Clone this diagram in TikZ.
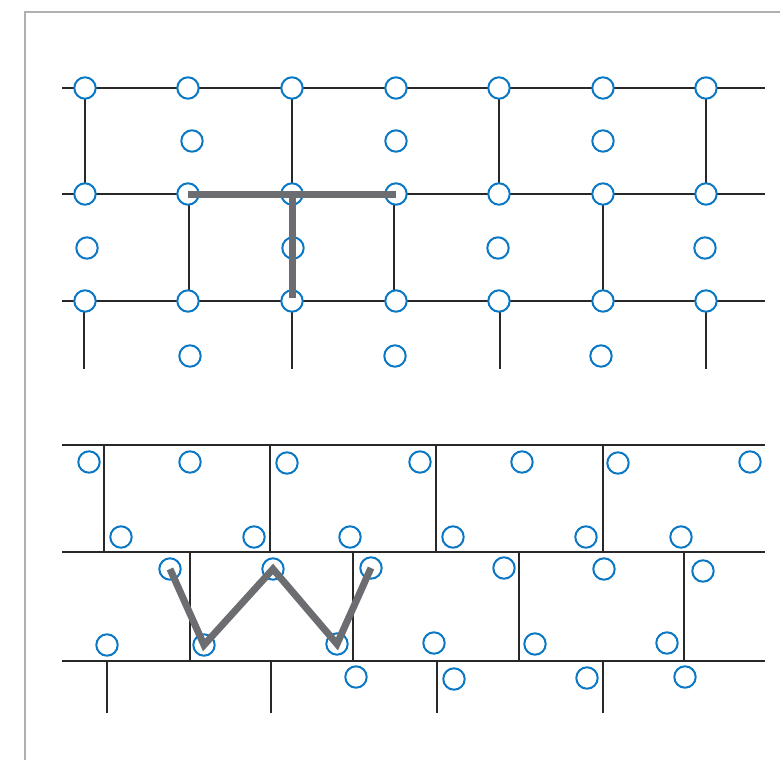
\documentclass[tikz,border=0pt]{standalone}
\usetikzlibrary{calc}
\definecolor{ionblue}{RGB}{10,120,196}
\definecolor{framegray}{RGB}{176,176,176}
\definecolor{bondgray}{RGB}{108,109,112}
\definecolor{linedark}{RGB}{40,40,40}
\tikzset{
  site/.style={circle,draw=ionblue,line width=2pt,fill=white,minimum size=21.4pt,inner sep=0pt},
  latt/.style={draw=linedark,line width=1.3pt},
  bond/.style={draw=bondgray,line width=7pt,line cap=butt,line join=miter},
  frameline/.style={draw=framegray,line width=2pt}
}
\begin{document}
\begin{tikzpicture}[x=1pt,y=-1pt]
\useasboundingbox (0,0) rectangle (780,760);
\draw[frameline] (25,760) -- (25,12) -- (780,12);
% ---------- top lattice ----------
\foreach \y in {88,194,301} \draw[latt] (62,\y) -- (765,\y);
\foreach \x in {85,292,499,706} \draw[latt] (\x,88) -- (\x,194);
\foreach \x in {189,394,603} \draw[latt] (\x,194) -- (\x,301);
\foreach \x in {84,292,500,706} \draw[latt] (\x,301) -- (\x,369);
\foreach \x [count=\i] in {85,188,292,396,499,603,706} {
  \node[site] (ta\i) at (\x,88) {};
  \node[site] (tb\i) at (\x,194) {};
  \node[site] (tc\i) at (\x,301) {};
}
\foreach \x [count=\i] in {192,396,603} \node[site] (tm\i) at (\x,141) {};
\foreach \x [count=\i] in {87,293,498,705} \node[site] (tn\i) at (\x,248) {};
\foreach \x [count=\i] in {190,395,601} \node[site] (to\i) at (\x,356) {};
\draw[bond] (tb2.center) -- (tb4.center);
\draw[bond] (tb3.center) -- ($(tc3.center)+(0,-3)$);
% ---------- bottom lattice ----------
\foreach \y in {445,552,661} \draw[latt] (62,\y) -- (765,\y);
\foreach \x in {104,270,436,603} \draw[latt] (\x,445) -- (\x,552);
\foreach \x in {190,353,519,684} \draw[latt] (\x,552) -- (\x,661);
\foreach \x in {107,271,437,603} \draw[latt] (\x,661) -- (\x,713);
\foreach \x/\y [count=\i] in {89/462,190/462,287/463,420/462,522/462,618/463,750/462}
  \node[site] (ba\i) at (\x,\y) {};
\foreach \x/\y [count=\i] in {121/537,254/537,350/537,453/537,586/537,681/537}
  \node[site] (bb\i) at (\x,\y) {};
\foreach \x/\y [count=\i] in {170/569,273/569,371/568,504/568,604/569,703/571}
  \node[site] (bc\i) at (\x,\y) {};
\foreach \x/\y [count=\i] in {107/645,204/645,337/644,434/643,535/644,667/643}
  \node[site] (bd\i) at (\x,\y) {};
\foreach \x/\y [count=\i] in {356/677,454/679,587/678,685/677}
  \node[site] (be\i) at (\x,\y) {};
\draw[bond] (bc1.center) -- (bd2.center) -- (bc2.center) -- (bd3.center) -- (bc3.center);
\end{tikzpicture}
\end{document}
